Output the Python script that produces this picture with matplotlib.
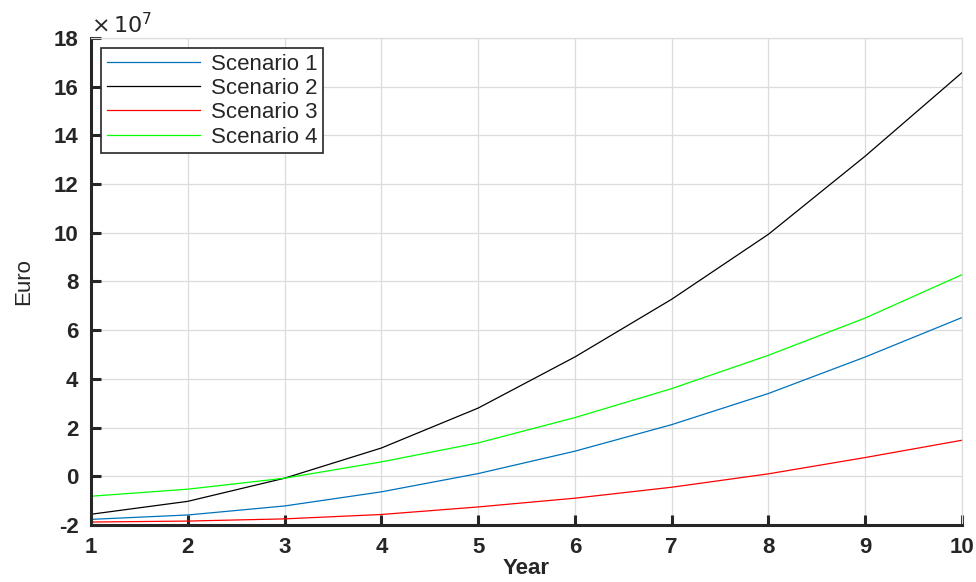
import numpy as np
import matplotlib.pyplot as plt
from matplotlib.ticker import FuncFormatter

plt.rcParams['font.family'] = ['Liberation Sans', 'DejaVu Sans']
plt.rcParams['axes.unicode_minus'] = False

years = [1, 2, 3, 4, 5, 6, 7, 8, 9, 10]
scenario1 = np.array([-1.77, -1.59, -1.22, -0.64, 0.11, 1.03, 2.12, 3.40, 4.90, 6.52]) * 1e7
scenario2 = np.array([-1.56, -1.03, -0.08, 1.16, 2.80, 4.90, 7.27, 9.94, 13.15, 16.58]) * 1e7
scenario3 = np.array([-1.88, -1.84, -1.75, -1.57, -1.26, -0.90, -0.45, 0.10, 0.77, 1.48]) * 1e7
scenario4 = np.array([-0.82, -0.53, -0.08, 0.59, 1.37, 2.41, 3.60, 4.97, 6.50, 8.28]) * 1e7
labels = ["Scenario 1", "Scenario 2", "Scenario 3", "Scenario 4"]

fig = plt.figure(figsize=(9.76, 5.82), dpi=100)
ax = fig.add_axes([0.0932, 0.098, 0.8925, 0.8367])

ax.plot(years, scenario1, color="#0072BD", lw=0.9, label=labels[0])
ax.plot(years, scenario2, color="black", lw=0.9, label=labels[1])
ax.plot(years, scenario3, color="#FF0000", lw=0.9, label=labels[2])
ax.plot(years, scenario4, color="#00FF00", lw=0.9, label=labels[3])

ax.set_xlim(1, 10)
ax.set_ylim(-2e7, 18e7)
ax.set_xticks(years)
ax.set_yticks(np.arange(-2, 19, 2) * 1e7)
ax.yaxis.set_major_formatter(FuncFormatter(lambda v, p: "%g" % (v / 1e7)))
ax.text(0.0, 1.01, r"$\times\,10^{7}$", transform=ax.transAxes, fontsize=16,
        color="#262626", ha="left", va="baseline")

ax.grid(True, color="#dcdcdc", lw=0.9)
ax.set_axisbelow(True)
for s in ["left", "bottom"]:
    ax.spines[s].set_linewidth(2.2)
    ax.spines[s].set_color("#262626")
for s in ["top", "right"]:
    ax.spines[s].set_linewidth(0.9)
    ax.spines[s].set_color("#dcdcdc")

ax.tick_params(direction="in", length=7, width=2.2, color="#262626",
               labelsize=16, labelcolor="#262626", pad=9)
for t in ax.get_xticklabels() + ax.get_yticklabels():
    t.set_fontweight("bold")

ax.set_xlabel("Year", fontsize=16, color="#262626", labelpad=0, fontweight="bold")
ax.set_ylabel("Euro", fontsize=16, color="#262626", labelpad=14)

leg = ax.legend(loc="upper left", fontsize=16, fancybox=False, framealpha=1,
                edgecolor="#262626", handlelength=4.2, borderaxespad=0.45,
                labelspacing=0.15, handletextpad=0.5, borderpad=0.25)
leg.get_frame().set_linewidth(1.2)
for t in leg.get_texts():
    t.set_color("#262626")

fig.savefig("out.png", dpi=100)
